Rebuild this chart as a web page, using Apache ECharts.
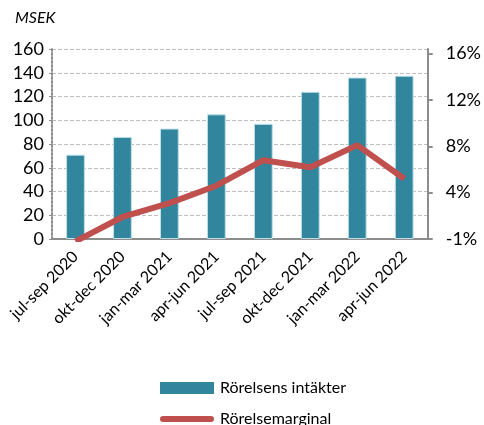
<!DOCTYPE html>
<html>
<head>
<meta charset="utf-8">
<title></title>
<script src="https://cdn.jsdelivr.net/npm/echarts@6/dist/echarts.min.js"></script>
<style>
  html, body { margin: 0; padding: 0; background: #fff; }
  #chart { width: 484px; height: 425px; }
</style>
</head>
<body>
<div id="chart"></div>
<script>
// kvartal
var categories = ['jul-sep 2020', 'okt-dec 2020', 'jan-mar 2021', 'apr-jun 2021',
                  'jul-sep 2021', 'okt-dec 2021', 'jan-mar 2022', 'apr-jun 2022'];
// MSEK
var intakter = [71, 86, 93, 105, 97, 124, 136, 137.5];
// procent
var marginal = [-0.2, 1.9, 3.1, 4.6, 6.8, 6.2, 8.1, 5.2];
var leftTicks = [0, 20, 40, 60, 80, 100, 120, 140, 160];
var rightTicks = [0, 4, 8, 12, 16];

var font = 'Lato, "Open Sans", sans-serif';

function legendBox(top, item) {
  return {
    left: 160, top: top, padding: 0,
    itemWidth: 54, itemHeight: 12,
    textStyle: { fontSize: 16, color: '#000', fontFamily: font, padding: [0, 0, 0, 1] },
    data: [item]
  };
}

var chart = echarts.init(document.getElementById('chart'));
chart.setOption({
  animation: false,
  textStyle: { fontFamily: font },
  grid: { left: 52, right: 51, top: 49, bottom: 186 },
  graphic: [{
    type: 'text', left: 15, top: 10,
    style: { text: 'MSEK', font: 'italic 16px ' + font, fill: '#000' }
  }],
  legend: [
    legendBox(380, { name: 'Rörelsens intäkter', icon: 'rect', itemStyle: { borderWidth: 0 } }),
    legendBox(411, { name: 'Rörelsemarginal', icon: 'path://M3,0H51A3,3,0,0,1,51,6H3A3,3,0,0,1,3,0Z',
      itemStyle: { color: '#c0504d', borderWidth: 0 } })
  ],
  xAxis: {
    type: 'category',
    data: categories,
    axisLine: { lineStyle: { color: '#8c8c8c', width: 2 } },
    axisTick: { show: false },
    axisLabel: { rotate: 45, fontSize: 16, color: '#000', margin: 15, interval: 0 }
  },
  yAxis: [{
    type: 'value', min: 0, max: 160, interval: 20,
    axisLine: { show: true, lineStyle: { color: '#8c8c8c', type: 'dotted', width: 2 } },
    axisTick: { show: true, length: 3, lineStyle: { color: '#8c8c8c' } },
    splitLine: { lineStyle: { color: '#bfbfbf', type: 'dashed', width: 1 } },
    axisLabel: {
      fontSize: 18, color: '#000', margin: 8,
      formatter: function (v) { return leftTicks.indexOf(v) >= 0 ? String(v) : ''; }
    }
  }, {
    type: 'value', min: 0, max: 16.4, interval: 4,
    axisLine: { show: true, lineStyle: { color: '#8c8c8c', width: 2 } },
    axisTick: { show: true, length: 5, lineStyle: { color: '#8c8c8c', width: 2 } },
    splitLine: { show: false },
    axisLabel: {
      fontSize: 18, color: '#000', margin: 18, showMaxLabel: false,
      formatter: function (v) {
        if (rightTicks.indexOf(v) < 0) return '';
        return v === 0 ? '-1%' : v + '%';
      }
    }
  }],
  series: [{
    name: 'Rörelsens intäkter',
    type: 'bar',
    data: intakter,
    barWidth: '40%',
    itemStyle: { color: '#31859c', borderColor: '#bfe0ea', borderWidth: 1 }
  }, {
    name: 'Rörelsemarginal',
    type: 'line',
    yAxisIndex: 1,
    data: marginal,
    symbol: 'none',
    clip: true,
    lineStyle: { color: '#c0504d', width: 6 },
    itemStyle: { color: '#c0504d' }
  }]
});
</script>
</body>
</html>
